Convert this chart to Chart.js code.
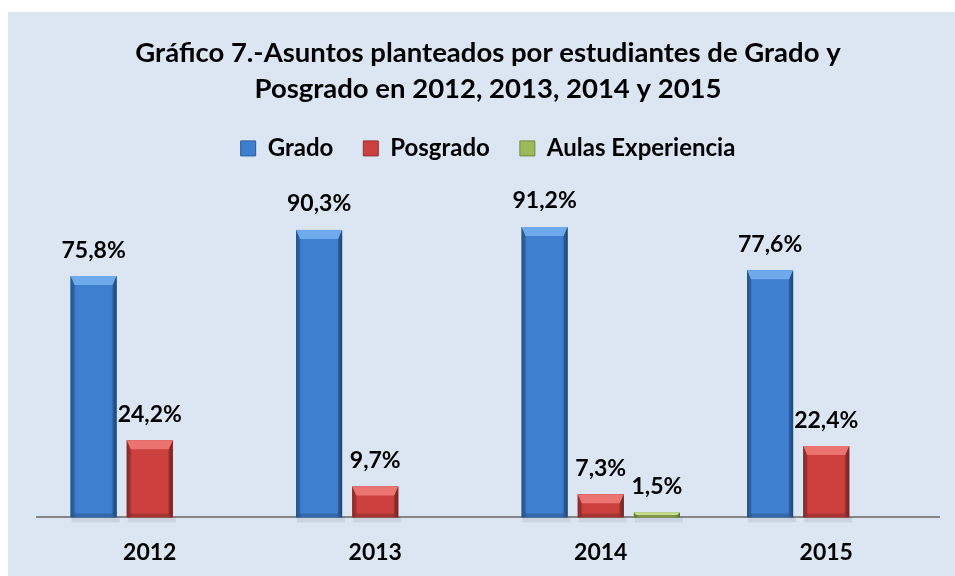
<!DOCTYPE html>
<html>
<head>
<meta charset="utf-8">
<script src="https://cdn.jsdelivr.net/npm/chart.js@4.4.1/dist/chart.umd.min.js"></script>
<style>
    html, body { margin: 0; padding: 0; background: #ffffff; }
    #marco { position: absolute; left: 8px; top: 12px; width: 947px; height: 564px; background: #dce6f2; }
    canvas { display: block; }
</style>
</head>
<body>
<div id="marco"><canvas id="grafico" width="947" height="564"></canvas></div>
<script>
const anios = ['2012', '2013', '2014', '2015'];
const grado = [75.8, 90.3, 91.2, 77.6];
const posgrado = [24.2, 9.7, 7.3, 22.4];
const aulas = [null, null, 1.5, null];
const nombresSeries = ['Grado', 'Posgrado', 'Aulas Experiencia'];
const tituloLineas = ['Gráfico 7.-Asuntos planteados por estudiantes de Grado y', 'Posgrado en 2012, 2013, 2014 y 2015'];

// colores: base, borde oscuro, bisel claro
const paletas = [
    { base: '#3f7fd0', oscuro: '#2a5b97', claro: '#6eaaec' },
    { base: '#cc413e', oscuro: '#933030', claro: '#ec7470' },
    { base: '#9bbb59', oscuro: '#71893f', claro: '#c6dc8e' }
];

const fuente = 'Lato, "Open Sans", sans-serif';

function formatoPct(v) {
    return v.toFixed(1).replace('.', ',') + '%';
}

// pinta cada barra con degradado y bisel tipo Excel
const pluginBisel = {
    id: 'bisel',
    afterDatasetsDraw(chart) {
        const ctx = chart.ctx;
        chart.data.datasets.forEach((ds, i) => {
            const meta = chart.getDatasetMeta(i);
            const pal = paletas[i];
            meta.data.forEach((bar, j) => {
                if (ds.data[j] == null) return;
                const p = bar.getProps(['x', 'y', 'base', 'width'], true);
                const izq = p.x - p.width / 2, der = p.x + p.width / 2;
                const arriba = p.y, abajo = p.base;
                const alto = abajo - arriba;
                const b = Math.min(9, alto / 2);
                const s = Math.min(4, alto / 2);
                ctx.save();
                // sombra
                ctx.fillStyle = 'rgba(0,0,0,0.08)';
                ctx.fillRect(izq + 1, abajo, p.width + 2, 5);
                const grad = ctx.createLinearGradient(izq, 0, der, 0);
                grad.addColorStop(0, pal.oscuro);
                grad.addColorStop(0.12, pal.base);
                grad.addColorStop(0.88, pal.base);
                grad.addColorStop(1, pal.oscuro);
                ctx.fillStyle = grad;
                ctx.fillRect(izq, arriba, p.width, alto);
                // bisel superior
                ctx.fillStyle = pal.claro;
                ctx.beginPath();
                ctx.moveTo(izq, arriba);
                ctx.lineTo(der, arriba);
                ctx.lineTo(der - s, arriba + b);
                ctx.lineTo(izq + s, arriba + b);
                ctx.closePath();
                ctx.fill();
                // laterales
                ctx.fillStyle = 'rgba(0,0,0,0.12)';
                ctx.beginPath();
                ctx.moveTo(izq, arriba);
                ctx.lineTo(izq + s, arriba + b);
                ctx.lineTo(izq + s, abajo - s);
                ctx.lineTo(izq, abajo);
                ctx.closePath();
                ctx.fill();
                ctx.fillStyle = 'rgba(0,0,0,0.22)';
                ctx.beginPath();
                ctx.moveTo(der, arriba);
                ctx.lineTo(der - s, arriba + b);
                ctx.lineTo(der - s, abajo - s);
                ctx.lineTo(der, abajo);
                ctx.closePath();
                ctx.fill();
                // base
                ctx.fillStyle = 'rgba(0,0,0,0.18)';
                ctx.beginPath();
                ctx.moveTo(izq, abajo);
                ctx.lineTo(izq + s, abajo - s);
                ctx.lineTo(der - s, abajo - s);
                ctx.lineTo(der, abajo);
                ctx.closePath();
                ctx.fill();
                ctx.restore();
            });
        });
        // etiquetas de valor
        ctx.save();
        ctx.font = 'bold 23px ' + fuente;
        ctx.fillStyle = '#000000';
        ctx.textAlign = 'center';
        ctx.textBaseline = 'middle';
        chart.data.datasets.forEach((ds, i) => {
            const meta = chart.getDatasetMeta(i);
            meta.data.forEach((bar, j) => {
                if (ds.data[j] == null) return;
                ctx.fillText(formatoPct(ds.data[j]), bar.x, bar.y - 26);
            });
        });
        ctx.restore();
    }
};

const ctx = document.getElementById('grafico').getContext('2d');
new Chart(ctx, {
    type: 'bar',
    data: {
        labels: anios,
        datasets: [
            { label: nombresSeries[0], data: grado, backgroundColor: paletas[0].base },
            { label: nombresSeries[1], data: posgrado, backgroundColor: paletas[1].base },
            { label: nombresSeries[2], data: aulas, backgroundColor: paletas[2].base }
        ]
    },
    options: {
        responsive: false,
        devicePixelRatio: 1,
        animation: false,
        categoryPercentage: 0.747,
        barPercentage: 0.82,
        layout: { padding: { left: 29, right: 16, top: 0, bottom: -11 } },
        scales: {
            x: {
                grid: { display: false, drawTicks: false },
                border: { display: true, color: '#868686', width: 2 },
                ticks: { color: '#000000', padding: 21, font: { family: fuente, size: 23, weight: 'bold' } }
            },
            y: { display: false, min: 0, max: 109 }
        },
        plugins: {
            tooltip: { enabled: false },
            title: {
                display: true,
                text: tituloLineas,
                color: '#000000',
                padding: { top: 24, bottom: 0 },
                font: { family: fuente, size: 27.5, weight: 'bold', lineHeight: 1.28 }
            },
            legend: {
                display: true,
                labels: {
                    color: '#000000',
                    boxWidth: 15,
                    boxHeight: 15,
                    padding: 30,
                    font: { family: fuente, size: 24, weight: 'bold' },
                    generateLabels(chart) {
                        return chart.data.datasets.map((ds, i) => ({
                            text: ds.label,
                            fillStyle: paletas[i].base,
                            strokeStyle: paletas[i].oscuro,
                            lineWidth: 1,
                            fontColor: '#000000',
                            datasetIndex: i,
                            hidden: false
                        }));
                    }
                }
            }
        }
    },
    plugins: [pluginBisel]
});
</script>
</body>
</html>
